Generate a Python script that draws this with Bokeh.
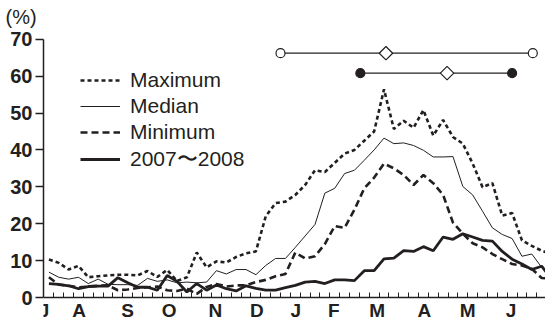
from bokeh.plotting import figure
from bokeh.models import FixedTicker, Range1d, Legend, LegendItem
from bokeh.embed import file_html
from bokeh.resources import INLINE
import math

# ---- data (weekly, July -> June) ----
weeks = list(range(52))
maximum = [10.3, 9.4, 7.6, 8.6, 5.5, 5.8, 6.0, 6.2, 6.2, 6.0,
           7.2, 5.6, 7.5, 4.5, 5.5, 12.2, 8.2, 9.8, 9.5, 11.0,
           12.0, 12.5, 22.0, 25.6, 26.0, 27.8, 30.5, 34.5, 34.0, 36.5,
           39.0, 40.0, 42.5, 45.0, 56.4, 45.7, 47.9, 46.0, 50.8, 43.9,
           48.1, 43.5, 41.7, 36.3, 29.9, 31.0, 22.2, 22.9, 15.5, 14.0,
           12.7, 11.8]
median = [6.9, 5.5, 5.0, 5.5, 3.8, 5.0, 3.6, 3.5, 3.5, 3.3,
          5.2, 4.4, 4.8, 4.0, 4.2, 4.0, 4.2, 7.3, 6.4, 7.6,
          7.6, 6.2, 8.7, 10.6, 10.6, 13.6, 16.7, 19.8, 28.3, 29.6,
          33.6, 34.5, 37.2, 40.0, 43.2, 41.7, 41.9, 41.2, 39.9, 38.1,
          38.1, 38.2, 30.1, 27.8, 23.4, 18.9, 17.1, 16.0, 11.2, 11.8,
          8.2, 5.1]
minimum = [5.5, 3.5, 3.2, 2.8, 3.0, 3.2, 3.3, 2.0, 2.2, 2.6,
           2.8, 3.0, 2.0, 1.8, 2.4, 1.0, 2.9, 3.7, 3.0, 3.3,
           3.3, 4.2, 4.8, 5.8, 6.4, 12.2, 10.6, 11.2, 14.5, 19.4,
           18.9, 23.8, 29.6, 32.5, 36.3, 35.0, 33.2, 30.5, 33.2, 31.0,
           27.8, 20.3, 17.3, 14.7, 13.6, 11.8, 10.4, 9.1, 8.7, 7.8,
           5.3, 5.1]
season_0708 = [3.8, 3.6, 3.2, 2.4, 3.0, 3.1, 3.1, 5.4, 4.0, 2.8,
               2.8, 2.0, 6.0, 4.4, 1.5, 3.8, 2.0, 3.4, 2.4, 1.8,
               3.2, 2.5, 2.0, 2.0, 2.7, 3.3, 4.2, 4.4, 3.8, 4.8,
               4.8, 4.6, 7.3, 7.3, 10.5, 10.7, 12.7, 12.5, 13.8, 12.7,
               16.4, 15.8, 17.3, 16.4, 15.5, 15.3, 12.5, 10.4, 9.1, 7.6,
               8.5, 5.1]

month_labels = ["J", "A", "S", "O", "N", "D", "J", "F", "M", "A", "M", "J"]
month_pos = [-0.5, 3.07, 7.98, 12.2, 16.9, 21.1, 25.05, 28.9, 33.3, 38.1, 42.5, 46.9]
y_ticks = [0, 10, 20, 30, 40, 50, 60, 70]

# epidemic periods: start, peak, end (week index) and the level where drawn
period_level = [66.2, 60.8]
period_start = [23.5, 31.6]
period_peak = [34.2, 40.4]
period_end = [49.1, 47.0]

INK = "#231f20"
FONT = "Liberation Sans"

W, H = 545, 324
LEFT, TOP = 43, 30
PX_PER_WEEK = 9.855
ZERO_Y = 297
SEVENTY_Y = 37.7
PX_PER_PCT = (ZERO_Y - SEVENTY_Y) / 70
X0 = -0.55
X1 = X0 + (W - LEFT) / PX_PER_WEEK
Y1 = (ZERO_Y - TOP) / PX_PER_PCT
Y0 = -(H - ZERO_Y) / PX_PER_PCT

p = figure(width=W, height=H, output_backend="svg", toolbar_location=None,
           x_range=Range1d(X0, X1), y_range=Range1d(Y0, Y1),
           min_border_left=LEFT, min_border_right=0, min_border_top=TOP, min_border_bottom=0)
p.outline_line_color = None
p.xgrid.visible = False
p.ygrid.visible = False
p.background_fill_color = None

r_max = p.line(weeks, maximum, line_color=INK, line_width=2.6, line_dash="4 3")
r_med = p.line(weeks, median, line_color=INK, line_width=1.0)
r_min = p.line(weeks, minimum, line_color=INK, line_width=2.6, line_dash="7 4")
r_sea = p.line(weeks, season_0708, line_color=INK, line_width=2.8)

# period bars
p.segment(x0=period_start, y0=period_level, x1=period_end, y1=period_level,
          line_color=INK, line_width=1.3)
p.scatter([period_start[0], period_end[0]], [period_level[0]] * 2, marker="circle",
          size=9, fill_color="white", line_color=INK, line_width=1.2)
p.scatter([period_start[1], period_end[1]], [period_level[1]] * 2, marker="circle",
          size=9, fill_color=INK, line_color=INK, line_width=1.2)
p.scatter(period_peak, period_level, marker="square", angle=math.pi / 4,
          size=9.5, fill_color="white", line_color=INK, line_width=1.2)

# axes
xa = p.xaxis[0]
xa.fixed_location = 0
xa.ticker = FixedTicker(ticks=month_pos, minor_ticks=[w - 0.5 for w in weeks])
xa.major_label_overrides = {pos: lab for pos, lab in zip(month_pos, month_labels)}
xa.major_tick_in = 0
xa.major_tick_out = 0
xa.minor_tick_in = 5
xa.minor_tick_out = 0
xa.minor_tick_line_color = INK
xa.minor_tick_line_width = 1
xa.axis_line_color = INK
xa.axis_line_width = 1.5
xa.major_label_text_font = FONT
xa.major_label_text_font_style = "bold"
xa.major_label_text_font_size = "19px"
xa.major_label_text_color = INK
xa.major_label_standoff = 2

ya = p.yaxis[0]
ya.ticker = FixedTicker(ticks=y_ticks)
ya.bounds = (0, 70)
ya.major_tick_in = 0
ya.major_tick_out = 8
ya.minor_tick_line_color = None
ya.major_tick_line_color = INK
ya.major_tick_line_width = 1.3
ya.axis_line_color = INK
ya.axis_line_width = 1.5
ya.major_label_text_font = FONT
ya.major_label_text_font_style = "bold"
ya.major_label_text_font_size = "20px"
ya.major_label_text_color = INK
ya.major_label_standoff = 3

p.title.text = "(%)"
p.title.align = "left"
p.title.offset = -38
p.title.standoff = 7
p.title.text_font = FONT
p.title.text_font_size = "20px"
p.title.text_font_style = "normal"
p.title.text_color = INK

legend = Legend(items=[LegendItem(label="Maximum", renderers=[r_max]),
                       LegendItem(label="Median", renderers=[r_med]),
                       LegendItem(label="Minimum", renderers=[r_min]),
                       LegendItem(label="2007〜2008", renderers=[r_sea])],
                location=(37, H - 173), orientation="vertical",
                glyph_width=40, glyph_height=26, label_height=26, spacing=0,
                padding=0, margin=0, label_standoff=10,
                label_text_font=FONT, label_text_font_size="21px", label_text_color=INK,
                border_line_color=None, background_fill_alpha=0)
p.add_layout(legend, "center")

open("out.html", "w").write(file_html(p, INLINE))
